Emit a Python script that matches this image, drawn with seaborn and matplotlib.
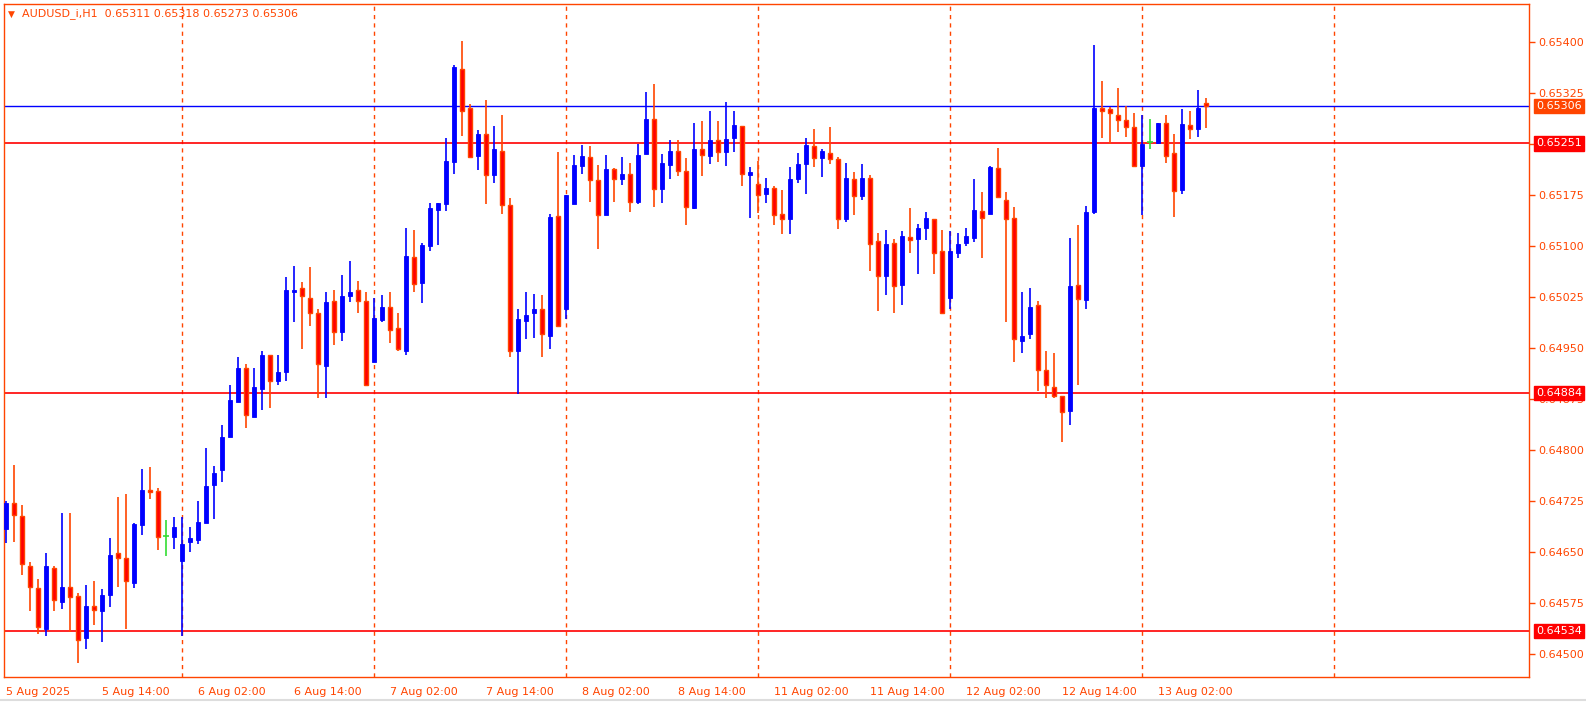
import numpy as np
import matplotlib
matplotlib.use("Agg")
import matplotlib.pyplot as plt
import seaborn as sns
from matplotlib.lines import Line2D

sns.set_style("white")
plt.rcParams['font.family'] = ['DejaVu Sans']

# prices in 1e-5 units (points)
opens = [64684,64722,64703,64630,64597,64536,64626,64576,64598,64585,
 64523,64570,64563,64586,64648,64641,64604,64690,64741,64740,
 64673,64672,64636,64664,64667,64692,64749,64771,64819,64871,
 64921,64849,64890,64939,64901,64914,65033,65038,65023,65001,
 64923,65019,64974,65026,65036,65019,64930,64991,65011,64979,
 64946,65084,65045,65100,65153,65162,65224,65361,65303,65233,
 65265,65205,65240,65160,64946,64989,65002,65008,64968,65144,
 65008,65162,65218,65231,65197,65146,65213,65199,65206,65165,
 65236,65287,65184,65219,65240,65211,65156,65243,65233,65256,
 65239,65259,65277,65205,65191,65177,65185,65147,65140,65199,
 65221,65247,65230,65237,65228,65140,65199,65174,65200,65107,
 65056,65104,65042,65113,65110,65126,65140,65092,65023,65090,
 65104,65112,65151,65147,65215,65168,65141,64960,64970,65013,
 64918,64893,64880,64858,65042,65020,65150,65303,65301,65292,
 65286,65275,65218,65253,65252,65281,65237,65182,65278,65272,
 65311]
highs = [64725,64778,64719,64635,64610,64648,64630,64707,64707,64589,
 64601,64607,64595,64670,64731,64735,64692,64772,64775,64744,
 64697,64701,64701,64687,64725,64803,64777,64837,64896,64936,
 64927,64921,64946,64939,64939,65054,65070,65047,65069,65007,
 65033,65035,65057,65078,65048,65032,65023,65028,65032,65002,
 65126,65124,65104,65163,65163,65259,65367,65402,65309,65271,
 65315,65277,65292,65171,65008,65033,65030,65028,65147,65239,
 65175,65234,65249,65247,65219,65234,65215,65231,65222,65250,
 65327,65339,65236,65256,65256,65230,65281,65284,65299,65284,
 65312,65299,65277,65216,65225,65200,65188,65182,65216,65237,
 65259,65272,65242,65275,65231,65222,65209,65221,65205,65119,
 65124,65110,65122,65156,65132,65150,65140,65124,65122,65119,
 65126,65199,65180,65218,65244,65180,65157,65033,65038,65019,
 64946,64943,64880,65112,65131,65159,65395,65342,65305,65332,
 65306,65295,65293,65287,65281,65293,65265,65302,65298,65330,
 65318]
lows = [64663,64664,64616,64563,64529,64526,64563,64566,64532,64486,
 64507,64542,64518,64569,64598,64536,64597,64675,64728,64653,
 64644,64654,64526,64650,64661,64692,64698,64753,64819,64871,
 64833,64848,64859,64861,64895,64901,64988,64948,64982,64876,
 64877,64955,64960,65017,65001,64895,64930,64988,64957,64945,
 64939,65033,65016,65092,65101,65151,65206,65262,65230,65212,
 65162,65193,65147,64936,64883,64963,64964,64936,64948,64982,
 64992,65162,65206,65165,65095,65146,65165,65190,65150,65162,
 65236,65157,65163,65199,65203,65131,65154,65203,65221,65224,
 65218,65239,65188,65141,65149,65163,65131,65118,65118,65193,
 65177,65216,65202,65221,65125,65135,65146,65168,65063,65004,
 65028,65001,65013,65090,65059,65109,65059,65001,65007,65082,
 65100,65106,65082,65147,65172,64988,64929,64943,64963,64886,
 64876,64876,64811,64836,64895,65008,65147,65259,65250,65267,
 65261,65218,65146,65242,65250,65222,65143,65177,65258,65261,
 65273]
closes = [64722,64704,64632,64598,64539,64630,64579,64598,64583,64520,
 64570,64564,64586,64645,64641,64607,64691,64741,64738,64672,
 64673,64687,64661,64670,64694,64747,64766,64819,64874,64921,
 64852,64892,64939,64901,64915,65036,65036,65026,65002,64926,
 65017,64973,65026,65033,65019,64895,64994,65010,64977,64948,
 65085,65044,65101,65156,65163,65225,65364,65299,65231,65265,
 65205,65242,65160,64946,64992,64998,65007,64970,65143,64982,
 65175,65219,65233,65197,65146,65213,65199,65206,65165,65234,
 65287,65184,65222,65240,65211,65157,65243,65234,65256,65239,
 65258,65278,65206,65209,65175,65185,65146,65140,65199,65221,
 65249,65230,65240,65228,65140,65200,65174,65200,65103,65056,
 65103,65041,65115,65109,65126,65141,65090,65001,65092,65103,
 65115,65153,65141,65216,65172,65140,64963,64968,65011,64918,
 64895,64880,64856,65041,65022,65150,65303,65299,65296,65286,
 65275,65218,65250,65253,65281,65233,65181,65280,65272,65303,
 65306]

x_labels = ["5 Aug 2025", "5 Aug 14:00", "6 Aug 02:00", "6 Aug 14:00", "7 Aug 02:00",
            "7 Aug 14:00", "8 Aug 02:00", "8 Aug 14:00", "11 Aug 02:00", "11 Aug 14:00",
            "12 Aug 02:00", "12 Aug 14:00", "13 Aug 02:00"]
label_bars = [0, 12, 24, 36, 48, 60, 72, 84, 96, 108, 120, 132, 144]
day_sep_bars = [22, 46, 70, 94, 118, 142, 166]
hlines_red = [0.65251, 0.64884, 0.64534]
bid_line = 0.65306
title = "AUDUSD_i,H1  0.65311 0.65318 0.65273 0.65306"

O = np.array(opens) / 1e5
H = np.array(highs) / 1e5
L = np.array(lows) / 1e5
C = np.array(closes) / 1e5
idx = np.arange(len(O))

OR = "#FF4500"
FS = 8
W, Hh = 1586, 703
fig = plt.figure(figsize=(W / 100, Hh / 100), dpi=100)
ax = fig.add_axes([4 / W, (Hh - 677) / Hh, (1529 - 4) / W, (677 - 4) / Hh])
ax.set_facecolor("white")

for xb in day_sep_bars:
    ax.axvline(xb, color=OR, lw=1, ls=(0, (3, 3)), zorder=1)
ax.axhline(bid_line, color="#0000FF", lw=1, zorder=2)
for hv in hlines_red:
    ax.axhline(hv, color="#FF0000", lw=1.2, zorder=2)

up = C > O
dn = C < O
eq = C == O
wick_col = np.where(up, "#0000FF", np.where(dn, OR, "#33DD33"))
ax.vlines(idx, L, H, colors=wick_col, lw=1.2, zorder=3)
bw = 0.62
ax.bar(idx[up], (C - O)[up], bottom=O[up], width=bw, color="#0000FF",
       edgecolor="#0000FF", lw=0.6, zorder=4)
ax.bar(idx[dn], (O - C)[dn], bottom=C[dn], width=bw, color="#FF0000",
       edgecolor=OR, lw=1.0, zorder=4)
ax.hlines(C[eq], idx[eq] - 0.35, idx[eq] + 0.35, colors="#33DD33", lw=1.2, zorder=4)

ax.set_xlim(-0.25, 190.375)
ax.set_ylim(0.64466, 0.65456)

for s in ax.spines.values():
    s.set_color(OR)
    s.set_linewidth(1)

yt = 0.645 + 0.00075 * np.arange(13)
ax.yaxis.tick_right()
ax.set_yticks(yt)
ax.set_yticklabels([f"{v:.5f}" for v in yt])
ax.tick_params(axis="y", direction="out", length=4, width=1, colors=OR,
               labelsize=FS, pad=3)
ax.set_xticks(label_bars)
ax.set_xticklabels(x_labels, ha="left")
ax.tick_params(axis="x", direction="out", length=4, width=1, colors=OR,
               labelsize=FS, pad=3)
ax.grid(False)

def tag(val, bg):
    ax.annotate(f"{val:.5f}", xy=(1.0, val), xycoords=("axes fraction", "data"),
                xytext=(5, 0), textcoords="offset points", ha="left", va="center",
                fontsize=FS, color="white", zorder=10, annotation_clip=False,
                bbox=dict(boxstyle="square,pad=0.2", fc=bg, ec=bg))

tag(bid_line, OR)
for hv in hlines_red:
    tag(hv, "#FF0000")

fig.text(8 / W, 1 - 14 / Hh, "▼", color=OR, fontsize=6.5, va="center", ha="left")
fig.text(22 / W, 1 - 14 / Hh, title, color=OR, fontsize=FS, va="center", ha="left")
fig.add_artist(Line2D([0, 1], [1 - 700 / Hh] * 2, color="#DDDDDD", lw=1.5))

fig.savefig("out.png", dpi=100, facecolor="white")
